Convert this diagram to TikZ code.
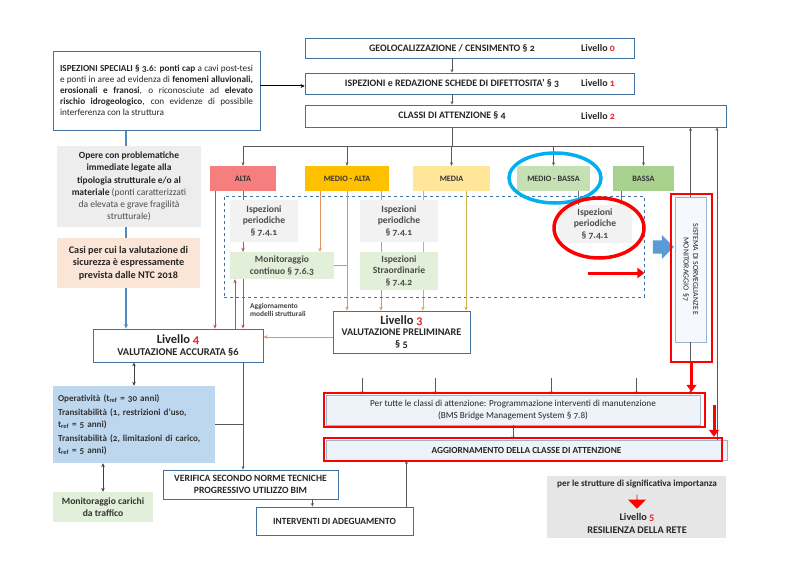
\documentclass[tikz,border=0pt]{standalone}
\usepackage{fontspec}
\setmainfont{Carlito}[Numbers=OldStyle]
\usetikzlibrary{positioning,arrows.meta,shapes.geometric,shapes.arrows,backgrounds}

\definecolor{boxline}{HTML}{41719C}
\definecolor{paleline}{HTML}{9DB3CC}
\definecolor{lvred}{HTML}{E8262A}
\definecolor{altafill}{HTML}{F47F7E}
\definecolor{medaltafill}{HTML}{FFC000}
\definecolor{mediafill}{HTML}{FFE699}
\definecolor{medbassafill}{HTML}{C5E0B4}
\definecolor{bassafill}{HTML}{A9D18E}
\definecolor{grayfill}{HTML}{F2F2F2}
\definecolor{operefill}{HTML}{EDEDED}
\definecolor{casifill}{HTML}{FBE5D6}
\definecolor{greenfill}{HTML}{E2F0D9}
\definecolor{opfill}{HTML}{BDD7EE}
\definecolor{progfill}{HTML}{EEF3FA}
\definecolor{strutfill}{HTML}{E7E6E6}
\definecolor{arrowblue}{HTML}{5B9BD5}
\definecolor{markcyan}{HTML}{00B0F0}
\definecolor{altaline}{HTML}{C0504D}
\definecolor{maline}{HTML}{E0925F}
\definecolor{medline}{HTML}{CFB54E}
\definecolor{linegray}{HTML}{595959}

\newcommand\lvnum[1]{\textcolor{lvred}{#1}}

\begin{document}
\begin{tikzpicture}[x=1pt, y=-1pt,
	box/.style={rectangle, draw=boxline, line width=0.8pt, fill=white, inner sep=0pt},
	capstxt/.style={font=\fontsize{9.9}{11}\selectfont\bfseries, text=black!85},
	clsbox/.style={rectangle, inner sep=0pt, minimum height=25, font=\fontsize{8.2}{9}\selectfont\bfseries, text=black!80},
	softbox/.style={rectangle, inner sep=0pt, align=center, font=\fontsize{9.6}{11.5}\selectfont\bfseries, text=black!70},
	hlbox/.style={rectangle, draw=red, line width=2.5pt, inner sep=0pt},
	markring/.style={ellipse, line width=3.5pt, inner sep=0pt},
	conn/.style={draw=linegray, line width=0.6pt, -{Stealth[length=3.5pt,width=3pt]}},
	link/.style={draw=linegray, line width=0.6pt},
	dbl/.style={draw=black!75, line width=0.9pt, {Stealth[length=4pt,width=3.5pt]}-{Stealth[length=4pt,width=3.5pt]}},
	redconn/.style={draw=altaline, line width=0.7pt, -{Stealth[length=4pt,width=3.5pt]}},
	maconn/.style={draw=maline, line width=0.7pt, -{Stealth[length=4pt,width=3.5pt]}},
	medconn/.style={draw=medline, line width=0.7pt, -{Stealth[length=4pt,width=3.5pt]}},
	redarrow/.style={draw=red, line width=3pt, -{Triangle[length=7pt,width=10pt]}}]

	\begin{scope}[on background layer]
		\path[fill=white] (0,0) rectangle (791,577);
	\end{scope}
	\useasboundingbox (0,0) rectangle (791,577);

	\node(geo)[box, minimum width=329, minimum height=20] at (469.5,48) {};
	\node(geo-txt)[capstxt] at (452,48) {GEOLOCALIZZAZIONE / CENSIMENTO § 2};
	\node(geo-lv)[capstxt] at (598,48) {Livello \lvnum{0}};

	\node(isp-3)[box, minimum width=329, minimum height=21] at (469.5,83.5) {};
	\node(isp-3-txt)[capstxt] at (452,83.5) {ISPEZIONI e REDAZIONE SCHEDE DI DIFETTOSITA’ § 3};
	\node(isp-3-lv)[capstxt] at (598,83.5) {Livello \lvnum{1}};

	\node(classi)[box, minimum width=421, minimum height=22] at (515.5,116) {};
	\node(classi-txt)[capstxt] at (452,116) {CLASSI DI ATTENZIONE § 4};
	\node(classi-lv)[capstxt] at (598,116) {Livello \lvnum{2}};

	\node(spec)[box, minimum height=79, text width=193, inner xsep=7pt, align=justify, font=\fontsize{9.2}{11}\selectfont, text=black!85] at (156.5,90.5)
		{\textbf{ISPEZIONI SPECIALI § 3.6: ponti cap} a cavi post-tesi\linebreak e ponti in aree ad evidenza di \textbf{fenomeni alluvionali,}\linebreak \textbf{erosionali e franosi}, o riconosciute ad \textbf{elevato}\linebreak \textbf{rischio idrogeologico}, con evidenze di possibile\linebreak interferenza con la struttura};

	\node(opere)[softbox, fill=operefill, minimum width=144, minimum height=81, font=\fontsize{9.5}{12.3}\selectfont] at (129,186.5)
		{\textbf{\color{black!85}Opere con problematiche}\\ \textbf{\color{black!85}immediate legate alla}\\ \textbf{\color{black!85}tipologia strutturale e/o al}\\ \textbf{\color{black!85}materiale} \mdseries(ponti caratterizzati\\ \mdseries da elevata e grave fragilità\\ \mdseries strutturale)};
	\node(casi)[softbox, fill=casifill, minimum width=143, minimum height=50, font=\fontsize{10.2}{12.5}\selectfont\bfseries, text=black!85] at (128.5,263)
		{Casi per cui la valutazione di\\ sicurezza è espressamente\\ prevista dalle NTC 2018};

	\node(alta)[clsbox, fill=altafill, minimum width=66] at (243,178.5) {ALTA};
	\node(medalta)[clsbox, fill=medaltafill, minimum width=84] at (347,178.5) {MEDIO - ALTA};
	\node(media)[clsbox, fill=mediafill, minimum width=77] at (451.5,178.5) {MEDIA};
	\node(medbassa)[clsbox, fill=medbassafill, minimum width=73] at (553.5,178.5) {MEDIO - BASSA};
	\node(bassa)[clsbox, fill=bassafill, minimum width=61] at (643.5,178.5) {BASSA};

	\node(zone)[rectangle, draw=boxline, dashed, line width=0.9pt, minimum width=420, minimum height=101] at (434,246.5) {};

	\node(per-1)[softbox, fill=grayfill, minimum width=68, minimum height=42] at (264,221) {Ispezioni\\ periodiche\\ § 7.4.1};
	\node(moni)[softbox, fill=greenfill, minimum width=104, minimum height=27] at (282,265.5) {Monitoraggio\\ continuo § 7.6.3};
	\node(per-2)[softbox, fill=grayfill, minimum width=78, minimum height=42] at (399,221) {Ispezioni\\ periodiche\\ § 7.4.1};
	\node(stra)[softbox, fill=greenfill, minimum width=78, minimum height=38] at (399,271) {Ispezioni\\ Straordinarie\\ § 7.4.2};
	\node(per-3)[softbox, fill=grayfill, minimum width=74, minimum height=38] at (595,224) {Ispezioni\\ periodiche\\ § 7.4.1};

	\node(aggmod)[anchor=west, align=left, inner sep=0pt, font=\fontsize{7.4}{8.6}\selectfont\bfseries, text=black!75] at (250,310) {Aggiornamento\\ modelli strutturali};

	\node(liv-3)[box, minimum width=137, minimum height=42, align=center, font=\fontsize{10.2}{11.5}\selectfont\bfseries, text=black!85] at (401.5,332)
		{{\fontsize{12.5}{13}\selectfont Livello \lvnum{3}}\\ VALUTAZIONE PRELIMINARE\\ § 5};
	\node(liv-4)[box, minimum width=170, minimum height=33, align=center, font=\fontsize{10.4}{12}\selectfont\bfseries, text=black!85] at (178,345.5)
		{{\fontsize{12.5}{13}\selectfont Livello \lvnum{4}}\\ VALUTAZIONE ACCURATA §6};

	\node(opera)[rectangle, fill=opfill, minimum width=162, minimum height=77, text width=152, inner xsep=5pt, align=left, font=\fontsize{9.1}{11.5}\selectfont\bfseries, text=black!80] at (134,424.5)
		{Operatività (t\textsubscript{ref} = 30 anni)\\[3pt] Transitabilità (1, restrizioni d’uso,\\ t\textsubscript{ref} = 5 anni)\\[3pt] Transitabilità (2, limitazioni di carico,\\ t\textsubscript{ref} = 5 anni)};
	\node(traffico)[softbox, fill=greenfill, minimum width=100, minimum height=30, font=\fontsize{9.6}{11.5}\selectfont\bfseries, text=black!80] at (103,507) {Monitoraggio carichi\\ da traffico};

	\node(verif)[box, minimum width=175, minimum height=29, align=center, font=\fontsize{9.6}{11.5}\selectfont\bfseries, text=black!85] at (250.5,484.5)
		{VERIFICA SECONDO NORME TECNICHE\\ PROGRESSIVO UTILIZZO BIM};
	\node(interv)[box, minimum width=157, minimum height=28, font=\fontsize{9.4}{11}\selectfont\bfseries, text=black!85] at (334.5,521) {INTERVENTI DI ADEGUAMENTO};

	\node(prog)[box, draw=paleline, fill=progfill, minimum width=374, minimum height=30, align=center, font=\fontsize{9.2}{11.2}\selectfont, text=black!85] at (513,410)
		{Per tutte le classi di attenzione: Programmazione interventi di manutenzione\\ (BMS Bridge Management System § 7.8)};
	\node(agg)[box, draw=paleline, fill=progfill, minimum width=401, minimum height=20, font=\fontsize{9.3}{11}\selectfont\bfseries, text=black!85] at (526.5,450) {AGGIORNAMENTO DELLA CLASSE DI ATTENZIONE};

	\node(sist)[box, draw=paleline, fill=progfill!60, minimum width=31, minimum height=145] at (690.5,269.5) {};
	\node(sist-txt)[rotate=-90, align=center, font=\fontsize{7.8}{9.5}\selectfont, text=black!85] at (sist) {SISTEMA DI SORVEGLIANZE E\\ MONITORAGGIO \ §7};

	\node(strut)[rectangle, fill=strutfill, minimum width=179, minimum height=62] at (636.5,507) {};
	\node(strut-a)[font=\fontsize{9.2}{10}\selectfont\bfseries, text=black!85] at (637,484) {per le strutture di significativa importanza};
	\node(strut-arr)[single arrow, fill=red, shape border rotate=270, minimum height=14, minimum width=18, single arrow head extend=4pt, inner xsep=0pt, inner ysep=5pt] at (637,501.5) {};
	\node(strut-b)[font=\fontsize{10.2}{11}\selectfont\bfseries, text=black!85] at (637,517) {Livello \lvnum{5}};
	\node(strut-c)[font=\fontsize{10.2}{11}\selectfont\bfseries, text=black!85] at (637,530) {RESILIENZA DELLA RETE};

	\node(push)[single arrow, fill=arrowblue, minimum height=21, minimum width=24, single arrow head extend=5pt, inner xsep=0pt, inner ysep=6pt] at (660,247) {};

	\coordinate(spec-out) at (260,86);
	\coordinate(fan) at (452,146);
	\coordinate(gx-blue) at (126,0);
	\coordinate(gx-red) at (215,0);
	\coordinate(gx-up) at (235,0);
	\coordinate(gx-alta) at (243,0);
	\coordinate(gx-ma1) at (320,0);
	\coordinate(gx-ma2) at (347,0);
	\coordinate(gx-ma3) at (381,0);
	\coordinate(gx-me1) at (423,0);
	\coordinate(gx-me2) at (466,0);
	\coordinate(gx-mb) at (578,0);
	\coordinate(gx-b) at (621,0);
	\coordinate(gx-bim) at (243,0);
	\coordinate(gx-agg) at (717,0);

	\begin{scope}[on background layer]
		\draw[draw=arrowblue!90!black, line width=1.3pt, -{Stealth[length=4.5pt,width=4pt]}] (spec.south -| gx-blue) -- (liv-4.north -| gx-blue);
		\draw[maconn] (gx-ma3 |- medalta.south) -- (gx-ma3 |- liv-3.north);
		\draw[medconn] (gx-me1 |- media.south) -- (gx-me1 |- liv-3.north);
		\draw[redconn, -] (gx-alta |- alta.south) -- (gx-alta |- per-1.north);
	\end{scope}

	\draw[draw=black, line width=1pt, -{Stealth[length=4pt,width=4pt]}] (spec-out) -- (spec-out -| isp-3.west);
	\draw[conn] (geo.south -| geo-txt) -- (isp-3.north -| geo-txt);
	\draw[conn] (isp-3.south -| geo-txt) -- (classi.north -| geo-txt);
	\draw[link] (classi.south -| fan) -- (fan);
	\draw[link] (alta.north |- fan) -- (bassa.north |- fan);
	\foreach \c in {alta,medalta,media,medbassa,bassa}
		\draw[conn] (\c.north |- fan) -- (\c.north);

	\draw[redconn] (gx-alta |- per-1.south) -- (gx-alta |- moni.north);
	\draw[redconn] (gx-red |- alta.south) -- (gx-red |- liv-4.north);
	\draw[redconn] (gx-alta |- moni.south) -- (gx-alta |- liv-4.north);
	\draw[redconn] (gx-up |- liv-4.north) -- (gx-up |- moni.south);

	\draw[maconn] (gx-ma1 |- medalta.south) -- (gx-ma1 |- moni.north);
	\draw[maconn] (gx-ma2 |- medalta.south) -- (gx-ma2 |- liv-3.north);
	\draw[maconn, -] (moni.east) -- (moni.east -| gx-ma2);
	\draw[medconn] (gx-me2 |- media.south) -- (gx-me2 |- liv-3.north);
	\draw[link, draw=black!55] (gx-mb |- medbassa.south) -- (gx-mb |- per-3.north);
	\draw[conn, draw=black!55] (gx-b |- bassa.south) -- (gx-b |- per-3.north);

	\draw[maconn] ([yshift=-5pt]liv-3.west) -- ([yshift=-5pt]liv-3.west -| liv-4.east);

	\draw[dbl] (opera.north) -- (opera.north |- liv-4.south);
	\draw[dbl] (traffico.north) -- (traffico.north |- opera.south);
	\draw[conn] (gx-bim |- liv-4.south) -- (gx-bim |- verif.north);
	\draw[link] (opera.east) -- (opera.east -| gx-bim);
	\draw[conn] ([xshift=-26pt]verif.south east) -- ([xshift=-26pt]verif.south east |- interv.north);
	\draw[conn] ([xshift=-7pt]interv.north east) -- ([xshift=-7pt]interv.north east |- agg.south);

	\foreach \x in {362,435,551,636} {
		\coordinate(in-\x) at (\x,378);
		\draw[conn] (in-\x) -- (in-\x |- prog.north);
	}
	\draw[conn] (prog.south) -- (prog.south |- agg.north);

	\draw[conn] (sist.north) -- (sist.north |- classi.south);
	\draw[conn] (sist.south) -- (sist.south |- prog.north);
	\draw[conn] (gx-agg |- agg.north) -- (gx-agg |- classi.south);

	\node(ring-mb)[markring, draw=markcyan, minimum width=92, minimum height=50] at (555,178) {};
	\node(ring-per)[markring, draw=red, minimum width=90, minimum height=60] at (599,228) {};
	\node(hl-sist)[hlbox, minimum width=41, minimum height=168] at (691.5,278) {};
	\node(hl-prog)[hlbox, minimum width=381, minimum height=34] at (514.5,410) {};
	\node(hl-agg)[hlbox, minimum width=398, minimum height=23] at (523,449.5) {};

	\coordinate(ra) at (588,273);
	\draw[redarrow] (ra) -- (ra -| zone.east);
	\draw[redarrow] (hl-sist.south) -- (hl-sist.south |- hl-prog.north);
	\coordinate(rb) at (714,405);
	\draw[redarrow] (rb) -- (rb |- hl-agg.north);
\end{tikzpicture}
\end{document}
